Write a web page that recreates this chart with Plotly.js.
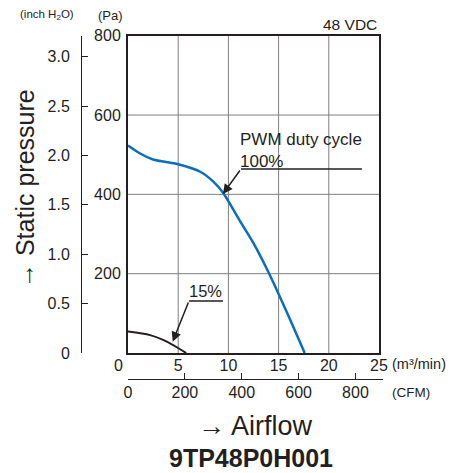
<!DOCTYPE html>
<html>
<head>
<meta charset="utf-8">
<script src="https://cdn.plot.ly/plotly-3.0.1.min.js"></script>
<style>
html,body{margin:0;padding:0;background:#fff;}
#chart{width:457px;height:473px;}
</style>
</head>
<body>
<div id="chart"></div>
<script>
// Airflow (m3/min) vs static pressure (Pa)
var flow100 = [0, 1.2, 2.5, 5.0, 7.2, 8.5, 9.5, 11.1, 12.5, 14.1, 15.8, 17.6];
var pres100 = [523, 503, 488, 476, 457, 432, 403, 335, 277, 198, 104, 0];
var flow15 = [0, 2.2, 3.5, 4.5, 5.8];
var pres15 = [54, 45, 33, 20, 0];

var m3Ticks = [5, 10, 15, 20, 25];
var paTicks = [200, 400, 600, 800];
var inchTicks = [0, 0.5, 1.0, 1.5, 2.0, 2.5, 3.0];
var inchLabels = ['0', '0.5', '1.0', '1.5', '2.0', '2.5', '3.0'];
var cfmTicks = [0, 200, 400, 600, 800];
var cfmLabels = ['0', '200', '400', '600', '800'];

var PA_PER_INCH = 249.089;
var CFM_PER_M3 = 35.3147;
var xMax = 25, yMax = 800;

var FONT = 'Liberation Sans, Arial, Helvetica, sans-serif';
var TXT = '#231f20';
var GRID = '#7f7f7f';

var traces = [
  {x: flow100, y: pres100, mode: 'lines', line: {color: '#0a6ebd', width: 2.5, shape: 'spline', smoothing: 0.8}, hoverinfo: 'skip'},
  {x: flow15, y: pres15, mode: 'lines', line: {color: '#231f20', width: 2, shape: 'spline', smoothing: 0.8}, hoverinfo: 'skip'},
  {x: [], y: [], xaxis: 'x2', yaxis: 'y3', mode: 'lines', hoverinfo: 'skip'},
  {x: [], y: [], xaxis: 'x3', yaxis: 'y2', mode: 'lines', hoverinfo: 'skip'}
];

var W = 457, H = 473;
var px = function(p){ return p / W; };
var py = function(p){ return 1 - p / H; };

var xDom = [px(128), px(379)];
var yDom = [py(353), py(35.7)];

// grid lines built from the tick arrays (inner ones only; the frame is the outer border)
var gridShapes = [];
m3Ticks.filter(function(v){ return v < xMax; }).forEach(function(v){
  gridShapes.push({type: 'line', layer: 'below', xref: 'x', yref: 'y', x0: v, x1: v, y0: 0, y1: yMax, line: {color: GRID, width: 1}});
});
paTicks.filter(function(v){ return v < yMax; }).forEach(function(v){
  gridShapes.push({type: 'line', layer: 'below', xref: 'x', yref: 'y', x0: 0, x1: xMax, y0: v, y1: v, line: {color: GRID, width: 1}});
});

var layout = {
  width: W, height: H,
  margin: {l: 0, r: 0, t: 0, b: 0},
  paper_bgcolor: '#fff', plot_bgcolor: 'rgba(0,0,0,0)',
  showlegend: false,
  font: {family: FONT, color: TXT, size: 16},
  xaxis: {
    domain: xDom, range: [0, xMax], anchor: 'y',
    tickmode: 'array', tickvals: m3Ticks, ticktext: m3Ticks.map(String),
    ticks: '', showgrid: false,
    showline: true, linecolor: '#231f20', linewidth: 2, mirror: true,
    zeroline: false, tickfont: {size: 16, color: TXT}, ticklabelstandoff: -3
  },
  yaxis: {
    domain: yDom, range: [0, yMax], anchor: 'x',
    tickmode: 'array', tickvals: paTicks, ticktext: paTicks.map(String),
    ticks: '', showgrid: false,
    showline: true, linecolor: '#231f20', linewidth: 2, mirror: true,
    zeroline: false, tickfont: {size: 16, color: TXT}, ticklabelstandoff: 2
  },
  xaxis2: {
    domain: [px(128), px(383)], range: [0, xMax * CFM_PER_M3 * (383 - 128) / (379 - 128)], anchor: 'y3', side: 'bottom',
    tickmode: 'array', tickvals: cfmTicks, ticktext: cfmLabels,
    ticks: 'inside', ticklen: 6, tickwidth: 1, tickcolor: '#231f20',
    showgrid: false, zeroline: false, showline: true, linecolor: '#231f20', linewidth: 1,
    tickfont: {size: 16, color: TXT}, ticklabelstandoff: -1
  },
  yaxis3: {
    domain: [py(379), py(379) + 0.002], anchor: 'x2', visible: false, range: [0, 1]
  },
  yaxis2: {
    domain: yDom, range: [0, yMax / PA_PER_INCH], anchor: 'x3', side: 'left',
    tickmode: 'array', tickvals: inchTicks, ticktext: inchLabels,
    ticks: 'inside', ticklen: 6, tickwidth: 1, tickcolor: '#231f20',
    showgrid: false, zeroline: false, showline: true, linecolor: '#231f20', linewidth: 1,
    tickfont: {size: 16, color: TXT}, ticklabelstandoff: 8
  },
  xaxis3: {
    domain: [px(82), px(82) + 0.002], anchor: 'y2', visible: false, range: [0, 1]
  },
  shapes: gridShapes.concat([
    {type: 'line', xref: 'x', yref: 'y', x0: 11.25, x1: 23.3, y0: 464, y1: 464, line: {color: '#231f20', width: 1.5}},
    {type: 'line', xref: 'x', yref: 'y', x0: 6.07, x1: 9.46, y0: 131, y1: 131, line: {color: '#231f20', width: 1.5}}
  ]),
  annotations: [
    {xref: 'x', yref: 'y', x: 9.46, y: 401, axref: 'x', ayref: 'y', ax: 11.25, ay: 464, text: '', showarrow: true, arrowhead: 2, arrowsize: 1.3, arrowwidth: 1.5, arrowcolor: '#231f20', standoff: 0, startstandoff: 0},
    {xref: 'x', yref: 'y', x: 4.45, y: 28.5, axref: 'x', ayref: 'y', ax: 6.07, ay: 131, text: '', showarrow: true, arrowhead: 2, arrowsize: 1.3, arrowwidth: 1.5, arrowcolor: '#231f20', standoff: 0, startstandoff: 0},
    {xref: 'paper', yref: 'paper', x: px(238), y: py(128), xanchor: 'left', yanchor: 'top', align: 'left', showarrow: false,
     text: 'PWM duty cycle<br>100%', font: {size: 17, color: TXT}},
    {xref: 'paper', yref: 'paper', x: px(224), y: py(291), xanchor: 'right', yanchor: 'middle', showarrow: false,
     text: '15%', font: {size: 16.5, color: TXT}},
    {xref: 'paper', yref: 'paper', x: px(379), y: py(24), xanchor: 'right', yanchor: 'middle', showarrow: false,
     text: '48 VDC', font: {size: 15.5, color: TXT}},
    {xref: 'paper', yref: 'paper', x: px(47), y: py(15), xanchor: 'center', yanchor: 'middle', showarrow: false,
     text: '(inch H<sub>2</sub>O)', font: {size: 11.5, color: TXT}},
    {xref: 'paper', yref: 'paper', x: px(110), y: py(15), xanchor: 'center', yanchor: 'middle', showarrow: false,
     text: '(Pa)', font: {size: 13, color: TXT}},
    {xref: 'paper', yref: 'paper', x: px(118), y: py(365), xanchor: 'center', yanchor: 'middle', showarrow: false,
     text: '0', font: {size: 16, color: TXT}},
    {xref: 'paper', yref: 'paper', x: px(390), y: py(364), xanchor: 'left', yanchor: 'middle', showarrow: false,
     text: '(m³/min)', font: {size: 14.5, color: TXT}},
    {xref: 'paper', yref: 'paper', x: px(390), y: py(392), xanchor: 'left', yanchor: 'middle', showarrow: false,
     text: '(CFM)', font: {size: 13.5, color: TXT}},
    {xref: 'paper', yref: 'paper', x: px(25), y: py(189), xanchor: 'center', yanchor: 'middle', showarrow: false,
     textangle: -90, text: '→ Static pressure', font: {size: 25, color: TXT}},
    {xref: 'paper', yref: 'paper', x: px(255), y: py(426), xanchor: 'center', yanchor: 'middle', showarrow: false,
     text: '→ Airflow', font: {size: 27, color: TXT}},
    {xref: 'paper', yref: 'paper', x: px(251), y: py(458), xanchor: 'center', yanchor: 'middle', showarrow: false,
     text: '<b>9TP48P0H001</b>', font: {size: 25, color: TXT}}
  ]
};

Plotly.newPlot('chart', traces, layout, {staticPlot: true, displayModeBar: false});
</script>
</body>
</html>
